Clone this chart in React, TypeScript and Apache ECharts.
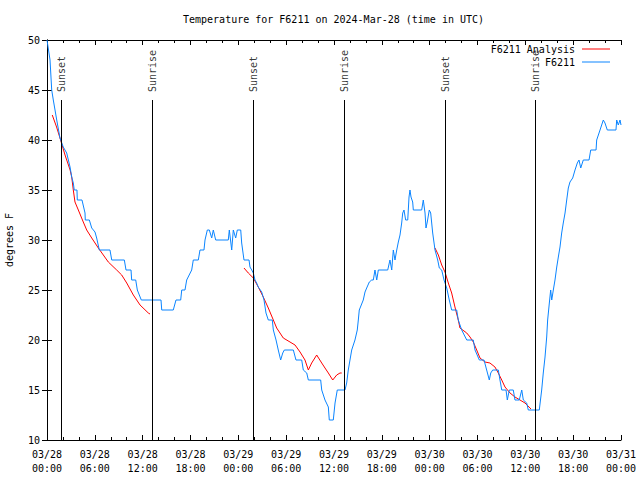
import React, { useEffect, useRef } from "react";
import * as echarts from "echarts";

const MONO = "'DejaVu Sans Mono', 'Liberation Mono', monospace";

const TITLE = "Temperature for F6211 on 2024-Mar-28 (time in UTC)";
const OBS_NAME = "F6211";
const ANALYSIS_NAME = "F6211 Analysis";

// hours since 03/28 00:00 UTC, temperature °F
const observed: [number, number][] = [
  [0, 50], [0.38, 48], [0.59, 45], [0.79, 44], [1.22, 42], [1.63, 40.2], [2.04, 39.3], [2.47, 38.7], [2.89, 37.3],
  [3.1, 36.3], [3.3, 35.7], [3.42, 35], [3.76, 35], [3.8, 34], [4.39, 34], [4.77, 32.7], [4.8, 32], [5.31, 32],
  [5.61, 31.2], [6.02, 30.8], [6.23, 30.2], [6.56, 29], [7.9, 29], [8.12, 28], [9.7, 28], [9.91, 27], [10.54, 27],
  [10.62, 26], [11.13, 26], [11.33, 25], [11.83, 24], [14.3, 24], [14.39, 23], [15.84, 23], [16.18, 24], [16.77, 24],
  [16.9, 25], [17.31, 25], [17.52, 26], [18.15, 27], [18.35, 28], [18.98, 28], [19.19, 29], [19.69, 29], [19.82, 30],
  [20.11, 31], [20.36, 31], [20.66, 30.2], [20.86, 31], [21.16, 30], [22.74, 30], [22.87, 31], [23.17, 29],
  [23.37, 31], [23.67, 30.2], [23.87, 31], [24.3, 31], [24.42, 29.7], [24.71, 28], [25.34, 28], [25.46, 27.3],
  [25.68, 27], [25.88, 26.7], [26.09, 26], [26.3, 25.7], [26.5, 25.3], [26.93, 24.8], [27.22, 24], [27.47, 22.7],
  [27.76, 22], [28.26, 22], [28.39, 21], [28.73, 20], [29.01, 19], [29.31, 18], [29.57, 18.7], [29.77, 19],
  [30.9, 19], [31.23, 18], [31.95, 18], [32.15, 17], [32.58, 16.7], [32.78, 16], [34.33, 16], [34.46, 15],
  [34.87, 14], [35.29, 13.3], [35.41, 12], [35.91, 12], [36.13, 13.7], [36.41, 15], [37.38, 15], [37.59, 15.7],
  [37.79, 17], [38.22, 19], [38.63, 20], [38.92, 21], [39.05, 22], [39.17, 23], [39.67, 24], [39.89, 24.8],
  [40.1, 25.2], [40.43, 25.8], [40.73, 26], [40.93, 26], [41.14, 27], [41.36, 26], [41.56, 27], [42.74, 27],
  [43.02, 28], [43.24, 27], [43.44, 29], [43.65, 28], [43.87, 29], [44.07, 29.8], [44.28, 30.5], [44.49, 31.7],
  [44.62, 32.7], [44.78, 33], [44.99, 32], [45.25, 32], [45.41, 34.3], [45.53, 35], [45.66, 34.3], [45.87, 33.8],
  [45.95, 33], [47, 33], [47.2, 34], [47.42, 32.7], [47.54, 31.2], [47.7, 31.8], [47.95, 33], [48.13, 32.7],
  [48.38, 30.7], [48.67, 29], [49.01, 28], [49.21, 27.2], [49.51, 27], [49.8, 26], [50.14, 25.2], [50.46, 24],
  [50.76, 23], [51.39, 23], [51.59, 22], [52.02, 21], [52.65, 20], [53.47, 20], [53.69, 19], [54.23, 18],
  [54.82, 18], [55.15, 17], [55.48, 16], [55.66, 16.7], [55.91, 17], [56.61, 17], [56.82, 16], [57.04, 15],
  [57.58, 15], [57.74, 14], [57.99, 15], [58.49, 15], [58.7, 14], [59.24, 14], [59.55, 15], [59.75, 14],
  [60.17, 13.7], [60.37, 13], [61.75, 13], [62.05, 15], [62.25, 16.7], [62.47, 18.3], [62.68, 20.3], [62.8, 22],
  [63.01, 23.7], [63.18, 25], [63.31, 24], [63.51, 25], [63.72, 26], [63.94, 27.3], [64.14, 28.3], [64.35, 29.3],
  [64.56, 30.7], [64.76, 31.7], [64.98, 32.7], [65.19, 34], [65.39, 35.2], [65.6, 35.8], [65.94, 36.2], [66.23, 37],
  [66.52, 37.7], [66.73, 38], [66.95, 37.2], [67.27, 38], [67.99, 38], [68.2, 39], [68.87, 39], [68.95, 40],
  [69.37, 41], [69.78, 42], [69.99, 41.7], [70.28, 41], [71.37, 41], [71.46, 42], [71.66, 41.5], [71.88, 42], [72, 41.5],
];

const analysis1: [number, number][] = [
  [0.66, 42.5], [1.2, 41.3], [1.63, 40.2], [2.26, 38.5], [2.9, 37], [3.1, 36.3], [3.3, 35], [3.51, 33.8], [3.93, 33],
  [4.55, 31.8], [4.98, 31], [5.61, 30.2], [6.44, 29.2], [7.69, 27.8], [8.74, 27], [9.37, 26.5], [10, 25.7],
  [10.83, 24.5], [11.67, 23.5], [12.71, 22.7], [12.92, 22.6],
];
const analysis2: [number, number][] = [
  [24.71, 27.2], [25.25, 26.7], [25.88, 26.2], [26.5, 25.3], [27.13, 24.3], [27.76, 23.2], [28.39, 22], [28.81, 21.2],
  [29.64, 20.2], [30.48, 19.8], [31.11, 19.5], [31.74, 18.8], [32.36, 18], [32.78, 17], [33.2, 17.7], [33.83, 18.5],
  [34.46, 17.7], [34.87, 17.2], [35.29, 16.7], [35.84, 16], [36.34, 16.5], [36.75, 16.7], [36.97, 16.7],
];
const analysis3: [number, number][] = [
  [48.67, 29.2], [49.09, 28.5], [49.51, 27.5], [49.92, 26.8], [50.34, 25.7], [50.76, 24.7], [51.17, 23.3],
  [51.59, 22], [51.8, 21.2], [52.65, 20.7], [53.06, 20.3], [53.47, 19.8], [53.9, 19], [54.31, 18.2], [54.94, 17.8],
  [55.56, 17.7], [56.19, 17.3], [56.61, 16.7], [57.04, 16], [57.45, 15.3], [58.08, 14.7], [58.7, 14.3], [59.33, 14],
  [59.96, 13.7], [60.59, 13.2], [60.71, 13.1],
];

const sunHours = [1.79, 13.21, 25.88, 37.29, 49.96, 61.25];
const sunLabels = ["Sunset", "Sunrise", "Sunset", "Sunrise", "Sunset", "Sunrise"];
const sunLineTop = 44;
const sunLabelAnchor = 44.8;

const X_MIN = 0, X_MAX = 72, X_STEP = 6;
const Y_MIN = 10, Y_MAX = 50, Y_STEP = 5;
const START_DAY = 28;

const RED = "#ff0000";
const BLUE = "#0a84ff";

export default function App() {
  const ref = useRef<HTMLDivElement>(null);
  useEffect(() => {
    if (!ref.current) return;
    const chart = echarts.init(ref.current, null, { renderer: "svg" });
    const txt = { fontFamily: MONO, fontSize: 10, color: "#000" };
    const tick = { show: true, inside: true, length: 5, lineStyle: { color: "#000", width: 1 } };
    const minor = { show: true, splitNumber: 3, length: 3, lineStyle: { color: "#000", width: 1 } };
    const axLine = { show: true, lineStyle: { color: "#000", width: 1 } };
    const xFmt = (v: number) => {
      const d = START_DAY + Math.floor(v / 24);
      const hh = v % 24;
      return `03/${d}\n${String(hh).padStart(2, "0")}:00`;
    };
    const legendCommon = {
      right: 30,
      orient: "vertical",
      align: "right",
      icon: "rect",
      itemWidth: 28,
      itemHeight: 1,
      padding: 0,
      itemGap: 0,
      textStyle: { ...txt, lineHeight: 12, padding: [0, 2, 0, 0] },
    };
    const option: any = {
      animation: false,
      backgroundColor: "#fff",
      textStyle: { fontFamily: MONO },
      title: {
        text: TITLE,
        left: 183,
        top: 14,
        padding: 0,
        textStyle: { ...txt, fontWeight: "normal" },
      },
      legend: [
        { ...legendCommon, top: 43, data: [ANALYSIS_NAME] },
        { ...legendCommon, top: 56, data: [OBS_NAME] },
      ],
      grid: { left: 47, right: 19, top: 40, bottom: 40, containLabel: false, outerBoundsMode: "none" },
      xAxis: [
        {
          type: "value", min: X_MIN, max: X_MAX, interval: X_STEP, position: "bottom",
          axisLine: axLine, axisTick: tick, minorTick: minor, splitLine: { show: false },
          axisLabel: { ...txt, formatter: xFmt, margin: 7, lineHeight: 14, showMinLabel: true, showMaxLabel: true },
        },
        {
          type: "value", min: X_MIN, max: X_MAX, interval: X_STEP, position: "top",
          axisLine: axLine, axisTick: tick, minorTick: minor, splitLine: { show: false },
          axisLabel: { show: false },
        },
      ],
      yAxis: [
        {
          type: "value", min: Y_MIN, max: Y_MAX, interval: Y_STEP, position: "left",
          axisLine: axLine, axisTick: tick, splitLine: { show: false },
          axisLabel: { ...txt, margin: 7 },
          name: "degrees F", nameLocation: "middle", nameGap: 33, nameRotate: 90,
          nameTextStyle: { ...txt },
        },
        {
          type: "value", min: Y_MIN, max: Y_MAX, interval: Y_STEP, position: "right",
          axisLine: axLine, axisTick: tick, splitLine: { show: false },
          axisLabel: { show: false },
        },
      ],
      series: [
        {
          type: "line",
          data: [],
          silent: true,
          markLine: {
            silent: true,
            symbol: ["none", "none"],
            label: { show: false },
            lineStyle: { color: "#000", width: 1, type: "solid" },
            data: sunHours.map((h) => [{ coord: [h, Y_MIN] }, { coord: [h, sunLineTop] }]),
          },
        },
        {
          type: "scatter",
          silent: true,
          symbolSize: 1,
          itemStyle: { color: "rgba(0,0,0,0)" },
          data: sunHours.map((h, i) => [h, sunLabelAnchor, sunLabels[i]]),
          label: {
            show: true,
            position: "inside",
            formatter: (p: any) => p.value[2],
            rotate: 90,
            align: "left",
            verticalAlign: "middle",
            ...txt,
          },
        },
        ...[analysis1, analysis2, analysis3].map((seg) => ({
          name: ANALYSIS_NAME,
          type: "line",
          data: seg,
          showSymbol: false,
          symbol: "none",
          color: RED,
          lineStyle: { color: RED, width: 1 },
        })),
        {
          name: OBS_NAME,
          type: "line",
          data: observed,
          showSymbol: false,
          symbol: "none",
          color: BLUE,
          lineStyle: { color: BLUE, width: 1 },
        },
      ],
    };
    chart.setOption(option);
    return () => chart.dispose();
  }, []);
  return <div ref={ref} style={{ width: 640, height: 480, position: "absolute", left: 0, top: 0 }} />;
}
